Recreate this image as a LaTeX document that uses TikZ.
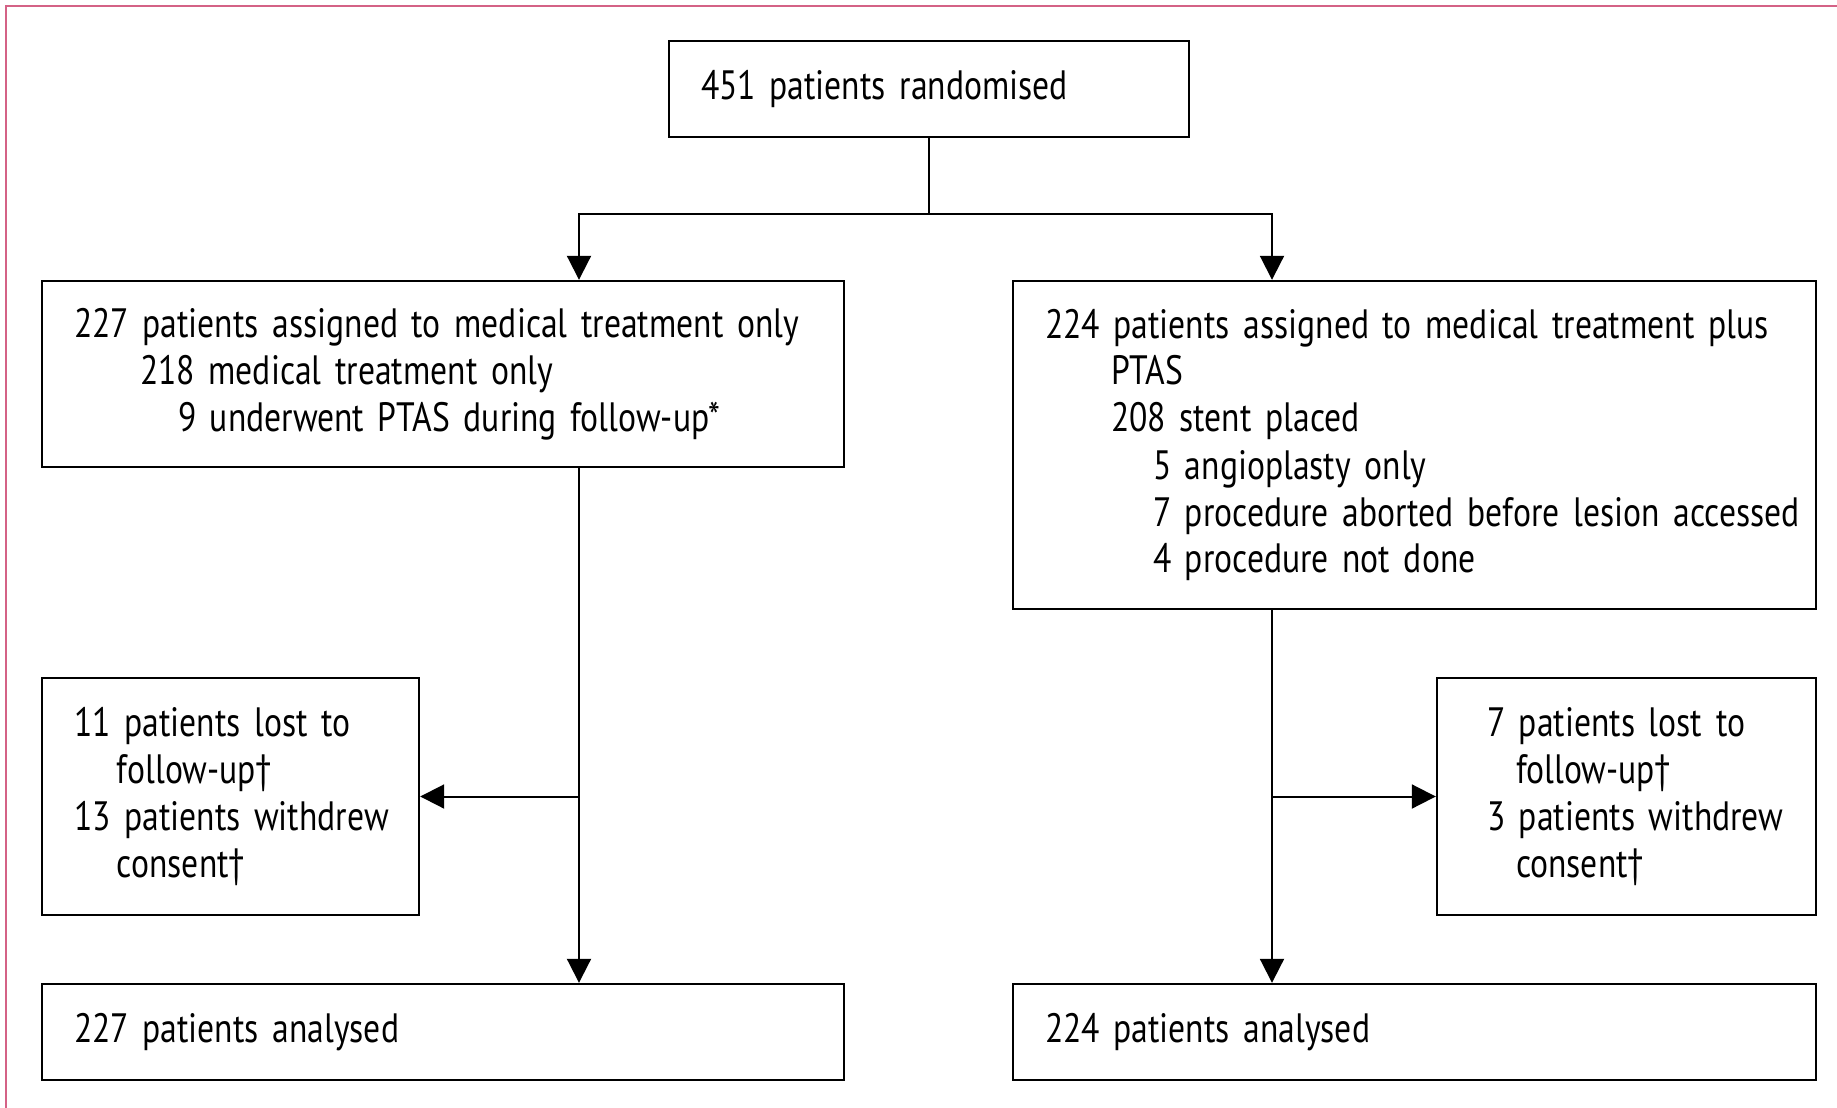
\documentclass[tikz,border=0pt]{standalone}
\usepackage{fontspec}
\setmainfont{PT Sans}[FakeStretch=0.82,WordSpace=0.7]
\usetikzlibrary{arrows.meta}
\definecolor{framepink}{RGB}{212,98,134}

\begin{document}
\begin{tikzpicture}[x=0.5pt,y=-0.5pt,
    flowbox/.style={draw,line width=1.2pt,rectangle,align=left,inner xsep=16pt,inner ysep=0pt,
      font=\fontsize{20.5}{23.5}\selectfont},
    flowline/.style={line width=1pt},
    flowarrow/.style={flowline,-{Triangle[length=12pt,width=12pt]}}]
  \useasboundingbox (0,0) rectangle (1837,1108);
  \draw [framepink,line width=1pt] (6,1108) -- (6,6) -- (1837,6);

  \node [flowbox,text width=228pt,minimum height=48pt] (rand) at (929,89) {451 patients randomised};
  \node [flowbox,text width=369pt,minimum height=93pt] (medbox) at (443,374)
    {227 patients assigned to medical treatment only\\
     \hspace*{33pt}218 medical treatment only\\
     \hspace*{52pt}9 underwent PTAS during follow-up*};
  \node [flowbox,text width=369.5pt,minimum height=164pt] (ptasbox) at (1414.5,445)
    {\mbox{224 patients assigned to medical treatment plus}\\
     \hspace*{33pt}PTAS\\
     \hspace*{33pt}208 stent placed\\
     \hspace*{54pt}5 angioplasty only\\
     \hspace*{54pt}\mbox{7 procedure aborted before lesion accessed}\\
     \hspace*{54pt}4 procedure not done};
  \node [flowbox,text width=156.5pt,minimum height=118.5pt] (lostL) at (230.5,796.5)
    {11 patients lost to\\
     \hspace*{21.5pt}follow-up†\\
     \mbox{13 patients withdrew}\\
     \hspace*{21.5pt}consent†};
  \node [flowbox,text width=157.5pt,minimum height=118.5pt] (lostR) at (1626.5,796.5)
    {\hspace*{9pt}7 patients lost to\\
     \hspace*{23.5pt}follow-up†\\
     \hspace*{9pt}\mbox{3 patients withdrew}\\
     \hspace*{23.5pt}consent†};
  \node [flowbox,text width=369pt,minimum height=48pt] (anaL) at (443,1032) {227 patients analysed};
  \node [flowbox,text width=369.5pt,minimum height=48pt] (anaR) at (1414.5,1032) {224 patients analysed};

  % split below randomisation
  \coordinate (splitL) at (579,214);
  \coordinate (splitR) at (1272,214);
  \draw [flowline] (rand.south) -- (rand.south |- splitL);
  \draw [flowarrow] (rand.south |- splitL) -- (splitL) -- (splitL |- medbox.north);
  \draw [flowarrow] (rand.south |- splitR) -- (splitR) -- (splitR |- ptasbox.north);

  % left arm
  \draw [flowarrow] (splitL |- medbox.south) -- (splitL |- anaL.north);
  \draw [flowarrow] (splitL |- lostL.east) -- (lostL.east);
  % right arm
  \draw [flowarrow] (splitR |- ptasbox.south) -- (splitR |- anaR.north);
  \draw [flowarrow] (splitR |- lostR.west) -- (lostR.west);
\end{tikzpicture}
\end{document}
